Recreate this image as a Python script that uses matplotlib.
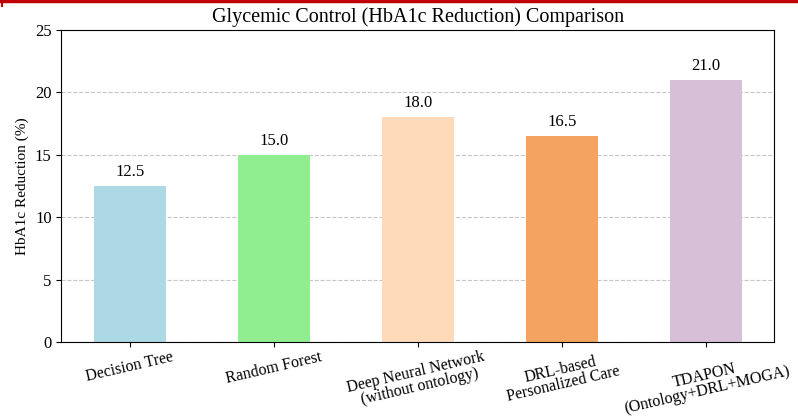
import numpy as np
import matplotlib.pyplot as plt
from matplotlib.lines import Line2D

plt.rcParams['font.family'] = ['Liberation Serif', 'DejaVu Serif']

models = [
    'Decision Tree',
    'Random Forest',
    'Deep Neural Network\n(without ontology)',
    'DRL-based\nPersonalized Care',
    'TDAPON\n(Ontology+DRL+MOGA)',
]
hba1c = [12.5, 15.0, 18.0, 16.5, 21.0]
colors = ['lightblue', 'lightgreen', 'peachpuff', 'sandybrown', 'thistle']

fig, ax = plt.subplots(figsize=(7.98, 4.18), dpi=100)
fig.subplots_adjust(left=0.077, right=0.97, top=0.928, bottom=0.182)

x = np.arange(len(models))
bars = ax.bar(x, hba1c, width=0.5, color=colors)
for b, v in zip(bars, hba1c):
    ax.text(b.get_x() + b.get_width() / 2, v + 0.5, f"{v:.1f}",
            ha='center', va='bottom', fontsize=12)

ax.set_title("Glycemic Control (HbA1c Reduction) Comparison", fontsize=14.5)
ax.set_ylabel("HbA1c Reduction (%)", fontsize=11)
ax.set_ylim(0, 25)
ax.set_xticks(x)
ax.set_xticklabels(models, rotation=13, fontsize=11.5, linespacing=0.92)
ax.tick_params(axis='x', pad=1.5)
ax.tick_params(axis='y', labelsize=12)
ax.grid(axis='y', linestyle='--', alpha=0.7)
ax.set_axisbelow(True)

# red strip along the top edge of the screenshot
fig.add_artist(Line2D([0, 1], [0.997, 0.997], color='#c00000', lw=2.5,
                      transform=fig.transFigure))
fig.add_artist(Line2D([0.002, 0.002], [0.985, 1.0], color='#c00000', lw=1.5,
                      transform=fig.transFigure))

plt.savefig('out.png', dpi=100)
